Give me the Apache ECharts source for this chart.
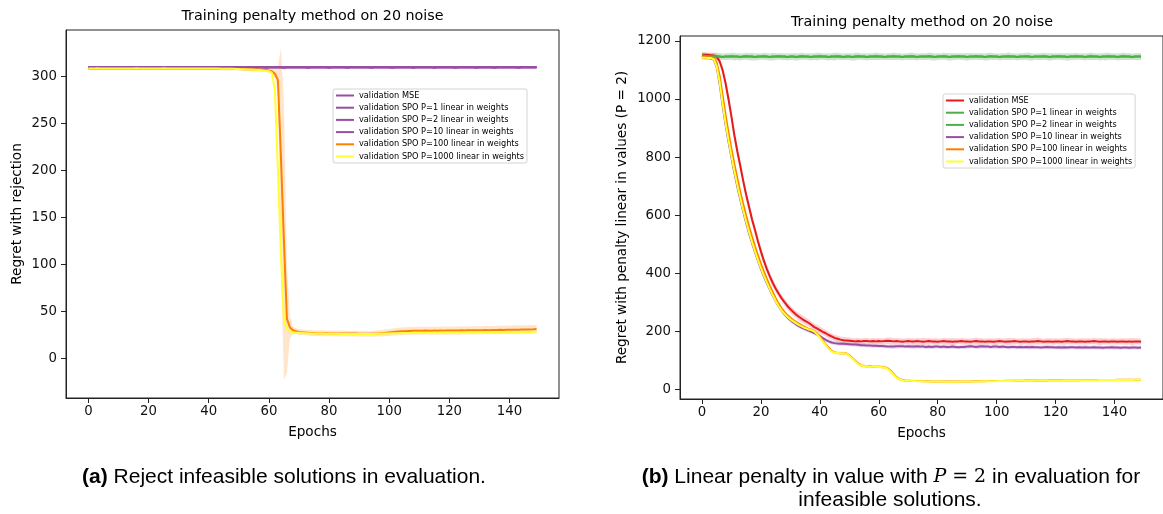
<!DOCTYPE html>
<html><head><meta charset="utf-8">
<script src="https://cdn.jsdelivr.net/npm/echarts@6/dist/echarts.min.js"></script>
<style>html,body{margin:0;padding:0;background:#fff}#c{width:1163px;height:514px}</style>
</head><body><div id="c"></div>
<script>
// ---------------- DATA ----------------
const chartTitle = 'Training penalty method on 20 noise';
const seriesNames = [
  'validation MSE',
  'validation SPO P=1 linear in weights',
  'validation SPO P=2 linear in weights',
  'validation SPO P=10 linear in weights',
  'validation SPO P=100 linear in weights',
  'validation SPO P=1000 linear in weights'
];
const epochTicks = [0, 20, 40, 60, 80, 100, 120, 140];
const leftYTicks = [0, 50, 100, 150, 200, 250, 300];
const rightYTicks = [0, 200, 400, 600, 800, 1000, 1200];

// (a) left: MSE, P=1, P=2, P=10 (all overlapping, purple)
const purpleLeft = [
309.4,309.3,309.5,309.3,309.4,309.2,309.4,309.5,309.3,309.4,
309.3,309.4,309.2,309.4,309.5,309.3,309.4,309.3,309.2,309.4,
309.5,309.3,309.4,309.3,309.4,309.2,309.3,309.5,309.4,309.3,
309.4,309.2,309.3,309.4,309.5,309.3,309.4,309.3,309.2,309.4,
309.3,309.5,309.4,309.3,309.2,309.4,309.3,309.4,309.5,309.3,
309.4,309.3,309.2,309.4,309.3,309.5,309.4,309.3,309.4,309.2,
309.3,309.4,309.5,309.3,309.4,309.2,309.3,309.4,309.3,309.5,
309.4,309.3,309.4,309.2,309.3,309.4,309.5,309.3,309.4,309.3,
309.2,309.4,309.3,309.5,309.4,309.3,309.2,309.4,309.3,309.4,
309.5,309.3,309.4,309.3,309.2,309.4,309.3,309.5,309.4,309.3,
309.4,309.2,309.3,309.4,309.5,309.3,309.4,309.3,309.2,309.4,
309.3,309.5,309.4,309.3,309.4,309.2,309.3,309.4,309.5,309.3,
309.4,309.3,309.2,309.4,309.3,309.5,309.4,309.3,309.4,309.2,
309.3,309.4,309.5,309.3,309.4,309.2,309.3,309.4,309.3,309.5,
309.4,309.3,309.4,309.2,309.3,309.4,309.5,309.3,309.4,309.3];
// (a) left: P=100 (orange)
const orangeLeft = [
307.9,307.8,307.9,307.8,307.9,307.8,307.8,307.9,307.8,307.9,
307.8,307.9,307.8,307.8,307.9,307.8,307.9,307.8,307.8,307.9,
307.8,307.8,307.9,307.8,307.9,307.8,307.8,307.9,307.8,307.8,
307.9,307.8,307.8,307.9,307.8,307.8,307.9,307.8,307.8,307.9,
307.8,307.8,307.9,307.8,307.8,307.7,307.8,307.7,307.7,307.7,
307.6,307.5,307.4,307.3,307.2,307.1,307.0,306.9,306.7,306.5,
306.0,305.0,302.5,296,215,125,42,33,30,29,
28.2,27.8,27.5,27.3,27.1,27.0,26.9,26.8,26.7,26.7,
26.6,26.6,26.5,26.5,26.6,26.5,26.4,26.4,26.5,26.4,
26.3,26.3,26.2,26.2,26.3,26.4,26.6,26.8,27.1,27.4,
27.7,28.0,28.3,28.6,28.8,29.0,29.1,29.3,29.4,29.4,
29.5,29.4,29.6,29.5,29.4,29.6,29.5,29.7,29.5,29.6,
29.7,29.6,29.8,29.7,29.9,29.8,29.9,30.0,29.9,30.0,
30.1,30.0,30.2,30.1,30.2,30.3,30.2,30.4,30.3,30.4,
30.5,30.4,30.6,30.5,30.7,30.8,30.7,30.9,31.0,31.2];
const orangeSpreadLeft = [
1.4,1.5,1.6,1.5,1.4,1.5,1.6,1.5,1.5,1.4,
1.5,1.6,1.5,1.4,1.5,1.5,1.6,1.5,1.4,1.5,
1.6,1.5,1.5,1.4,1.5,1.6,1.5,1.5,1.4,1.5,
1.5,1.6,1.5,1.4,1.5,1.5,1.6,1.5,1.5,1.4,
1.5,1.5,1.6,1.5,1.5,1.6,1.6,1.7,1.7,1.8,
1.8,1.9,1.9,2.0,2.0,2.1,2.1,2.2,2.2,2.2,
2.2,3.0,5.0,14,115,148,57,12,4,3,
3.0,3.1,2.9,3.0,3.2,3.0,2.9,3.1,3.0,3.1,
3.0,2.9,3.1,3.0,3.2,3.1,3.0,2.9,3.1,3.0,
3.1,3.0,3.2,3.1,3.0,3.2,3.3,3.4,3.5,3.6,
3.7,3.8,3.9,4.0,4.0,4.1,4.0,4.2,4.1,4.2,
4.1,4.3,4.2,4.1,4.3,4.2,4.3,4.2,4.4,4.3,
4.2,4.4,4.3,4.4,4.3,4.2,4.4,4.3,4.4,4.3,
4.4,4.3,4.5,4.4,4.3,4.5,4.4,4.5,4.4,4.5,
4.4,4.5,4.6,4.5,4.4,4.6,4.5,4.6,4.5,4.6];
// (a) left: P=1000 (yellow)
const yellowLeft = [
308.2,308.1,308.2,308.3,308.2,308.1,308.2,308.2,308.1,308.2,
308.2,308.1,308.2,308.2,308.1,308.2,308.3,308.2,308.1,308.2,
308.1,308.2,308.2,308.1,308.2,308.3,308.2,308.1,308.2,308.2,
308.2,308.1,308.2,308.2,308.1,308.2,308.2,308.1,308.2,308.1,
308.1,308.0,308.1,308.0,307.9,307.9,307.8,307.8,307.7,307.6,
307.5,307.4,307.3,307.1,307.0,306.8,306.6,306.4,306.1,305.8,
305.2,303.5,285,200,110,40,31,29,28,27.5,
27.2,27.0,26.8,26.7,26.6,26.5,26.5,26.4,26.4,26.3,
26.3,26.2,26.3,26.2,26.1,26.2,26.1,26.0,26.1,26.0,
26.0,26.1,26.0,25.9,26.0,26.1,26.2,26.3,26.4,26.5,
26.6,26.7,26.8,26.9,27.0,27.0,27.1,27.1,27.2,27.2,
27.3,27.3,27.4,27.3,27.4,27.5,27.4,27.5,27.5,27.6,
27.6,27.5,27.6,27.7,27.6,27.7,27.7,27.8,27.7,27.8,
27.8,27.9,27.8,27.9,27.9,28.0,27.9,28.0,28.0,28.1,
28.0,28.1,28.1,28.2,28.1,28.2,28.2,28.3,28.3,28.3];

// (b) right: MSE (red)
const redRight = [
1152,1152,1152,1151,1150,1145,1130,1100,1055,1000,
940,875,820,770,718,670,628,585,549,510,
475,443,415,390,367,347,330,314,300,287,
276,266,257,249,242,236,230,223,215,210,
204,198,193,187,182,177,174,171,169,168,
167,166,165,166,165,166,166,165,166,165,
166,165,166,167,166,165,166,165,164,165,
166,165,165,166,165,164,165,166,165,165,
164,165,166,165,165,164,165,165,166,165,
165,164,165,166,165,165,164,165,165,164,
165,166,165,164,165,165,166,165,164,165,
165,164,165,165,166,165,164,165,165,164,
165,165,164,165,166,165,165,164,165,165,
164,165,165,166,165,164,165,165,164,165,
165,164,165,165,164,165,164,165,165,164];
const redSpreadRight = [
8,8,8,8,9,10,12,14,16,17,
18,18,18,17,17,16,16,15,15,14,
14,14,13,13,13,12,12,12,12,12,
12,12,12,13,13,13,12,12,12,12,
12,12,11,11,11,11,11,11,11,11,
11,10,11,11,10,11,11,10,11,11,
11,10,11,11,12,11,10,11,11,10,
11,11,10,11,11,12,11,11,10,11,
11,10,11,11,11,12,11,10,11,11,
10,11,11,12,11,11,10,11,11,11,
11,11,10,11,12,11,11,10,11,11,
10,11,11,11,12,11,10,11,11,11,
11,10,11,12,11,11,11,10,11,11,
11,11,10,11,11,12,11,11,10,11,
11,10,11,11,11,11,12,11,10,11];
// (b) right: P=1 and P=2 (green, overlapping)
const greenRight = [
1150,1148,1147,1146,1146,1147,1146,1145,1146,1146,
1147,1146,1146,1145,1146,1147,1146,1146,1145,1146,
1146,1147,1146,1145,1146,1146,1147,1146,1146,1145,
1146,1146,1145,1146,1147,1146,1146,1145,1146,1146,
1147,1146,1146,1145,1146,1146,1147,1146,1145,1146,
1146,1145,1146,1147,1146,1146,1145,1146,1146,1147,
1146,1146,1145,1146,1146,1147,1146,1146,1145,1146,
1146,1147,1146,1145,1146,1146,1146,1147,1146,1145,
1146,1146,1147,1146,1145,1146,1146,1147,1146,1146,
1145,1146,1146,1147,1146,1146,1145,1146,1147,1146,
1146,1145,1146,1146,1147,1146,1146,1145,1146,1146,
1147,1146,1145,1146,1146,1146,1147,1146,1145,1146,
1146,1147,1146,1146,1145,1146,1146,1147,1146,1146,
1145,1146,1147,1146,1146,1145,1146,1146,1147,1146,
1146,1145,1146,1147,1146,1146,1145,1146,1146,1146];
const greenSpreadRight = [
12,12,11,12,13,12,12,11,12,12,
12,13,12,12,11,12,12,13,12,12,
11,12,12,12,13,12,11,12,12,12,
12,12,13,12,12,11,12,12,12,13,
12,11,12,12,12,13,12,12,11,12,
12,12,13,12,11,12,12,12,12,13,
12,12,11,12,12,13,12,12,12,11,
12,13,12,12,11,12,12,12,13,12,
12,11,12,12,13,12,12,11,12,12,
13,12,12,11,12,12,12,13,12,12,
11,12,12,12,13,12,11,12,12,12,
12,13,12,11,12,12,12,12,13,12,
12,11,12,12,13,12,12,12,11,12,
12,12,13,12,11,12,12,13,12,12,
11,12,12,13,12,12,11,12,12,12];
// (b) right: P=10 (purple)
const purpleRight = [
1142,1142,1141,1140,1136,1110,1052,978,912,853,
798,746,698,654,612,573,537,503,472,443,
415,389,366,344,323,304,286,271,258,247,
238,230,223,217,212,207,203,199,194,189,
183,176,170,165,161,159,158,157,156.5,156,
155,154,154,153,152,152,151,151,150,150,
149,149,148,147,147,147,148,148,148,147,
148,147,147,148,147,147,146,147,146,147,
147,146,147,146,146,147,146,145,146,146,
147,148,147,146,147,148,147,147,146,147,
147,146,147,146,145,146,146,145,146,145,
146,145,146,145,145,144,145,146,145,145,
144,145,144,145,144,145,145,144,145,144,
145,144,144,145,144,144,143,144,144,145,
144,144,143,144,144,143,144,144,143,144];
const purpleSpreadRight = [
3,3,3,3,4,5,6,7,7,7,
7,7,7,7,6,6,6,6,6,6,
6,6,6,6,6,6,6,6,6,6,
6,6,6,6,7,7,7,7,7,7,
7,7,7,7,7,7,7,7,7,7,
7,6,7,8,7,7,6,7,8,7,
7,8,7,6,7,7,8,7,7,6,
7,7,8,7,7,6,7,8,7,7,
6,7,7,8,7,7,7,6,7,8,
7,7,6,7,8,7,7,7,6,7,
8,7,7,6,7,7,8,7,7,6,
7,8,7,7,6,7,7,8,7,7,
6,7,8,7,7,7,6,7,7,8,
7,7,6,7,8,7,7,6,7,7,
8,7,7,6,7,7,8,7,7,7];
// (b) right: P=100 (orange)
const orangeRight = [
1145,1145,1144,1144,1141,1125,1080,1012,945,884,
828,775,726,680,637,597,560,525,492,461,
432,405,380,357,335,314,295,279,266,255,
246,238,231,225,219,214,209,205,201,193,
181,168,155,143,132,127,125,124,124,123,
117,108,98,89,82,80,79,79,78,78,
78,77,76,72,64,53,42,35,32,30.5,
29.8,29.3,28.9,28.5,28.2,27.9,27.6,27.4,27.2,27.0,
26.9,26.8,26.7,26.7,26.6,26.6,26.7,26.7,26.8,26.9,
27.0,27.1,27.3,27.4,27.6,27.8,27.9,28.1,28.2,28.4,
28.5,28.7,28.8,29.0,29.1,29.3,29.4,29.5,29.7,29.8,
29.9,30.0,30.1,30.2,30.3,30.4,30.5,30.6,30.7,30.8,
30.9,31.0,31.0,31.1,31.2,31.3,31.4,31.4,31.5,31.6,
31.7,31.7,31.8,31.9,31.9,32.0,32.1,32.1,32.2,32.3,
32.3,32.4,32.5,32.5,32.6,32.7,32.7,32.8,32.9,32.9];
const orangeSpreadRight = [
9,9,9,9,10,12,14,15,15,15,
14,14,13,13,12,12,11,11,10,10,
9,9,8,8,8,7,7,7,6,6,
6,6,6,6,6,6,5,5,5,5,
5,5,5,5,5,5,5,5,5,5,
5,5,5,5,5,5,5,5,5,5,
5,5,5,5,5,5,4,4,3,3,
3,3,3,2,3,3,2,3,3,2,
3,2,3,3,2,3,3,2,3,3,
2,3,3,2,3,3,3,2,3,3,
3,2,3,3,2,3,3,3,2,3,
3,3,2,3,3,2,3,3,3,2,
3,3,3,2,3,3,2,3,3,3,
2,3,3,3,2,3,3,2,3,3,
3,2,3,3,3,2,3,3,2,3];
// (b) right: P=1000 (yellow)
const yellowRight = [
1142,1142,1141,1141,1137,1112,1058,985,918,859,
804,752,704,659,617,578,542,507,476,446,
418,392,368,346,325,305,287,272,260,250,
241,234,227,221,216,211,207,204,200,190,
178,165,152,140,130,126,125,124,124,122,
115,106,96,87,81,79,79,78,78,78,
77,76,75,70,62,50,40,34,31,30,
29.5,29.0,28.5,28.0,27.8,27.5,27.2,27.0,26.8,26.6,
26.5,26.4,26.3,26.3,26.2,26.2,26.3,26.3,26.4,26.5,
26.6,26.7,26.9,27.0,27.2,27.4,27.5,27.7,27.8,28.0,
28.1,28.3,28.4,28.6,28.7,28.9,29.0,29.1,29.3,29.4,
29.5,29.6,29.7,29.8,29.9,30.0,30.1,30.2,30.3,30.4,
30.5,30.6,30.6,30.7,30.8,30.9,31.0,31.0,31.1,31.2,
31.3,31.3,31.4,31.5,31.5,31.6,31.7,31.7,31.8,31.9,
31.9,32.0,32.1,32.1,32.2,32.3,32.3,32.4,32.5,32.5];

// ---------------- STYLE ----------------
const C = {red:'#e41a1c', green:'#4daf4a', purple:'#984ea3', orange:'#ff7f00', yellow:'#ffff33'};
const leftColors  = [C.purple, C.purple, C.purple, C.purple, C.orange, C.yellow];
const rightColors = [C.red, C.green, C.green, C.purple, C.orange, C.yellow];
const FONT = 'DejaVu Sans';

function pts(arr) { return arr.map((v, i) => [i, v]); }
function line(name, arr, g, color) {
  return {type:'line', name, xAxisIndex:g, yAxisIndex:g, data:pts(arr), symbol:'none', showSymbol:false,
          lineStyle:{color, width:2}, itemStyle:{color}, silent:true, animation:false};
}
// shaded spread band: polygon through (epoch, value +/- spread) mapped by the axes
function band(key, arr, spread, g, fill) {
  return {type:'custom', name:key, coordinateSystem:'cartesian2d', xAxisIndex:g, yAxisIndex:g,
    clip:true, silent:true, animation:false,
    data: arr.map((v, i) => [i, v - spread[i], v + spread[i]]),
    encode:{x:0, y:[1, 2]},
    renderItem(params, api) {
      if (params.dataIndex !== 0) return null;
      const up = [], dn = [];
      for (let i = 0; i < arr.length; i++) {
        up.push(api.coord([i, arr[i] + spread[i]]));
        dn.push(api.coord([i, arr[i] - spread[i]]));
      }
      return {type:'polygon', shape:{points: up.concat(dn.reverse())}, style:{fill, stroke:null}};
    }};
}

const series = [
  // left (a)
  line(seriesNames[0], purpleLeft, 0, C.purple),
  line(seriesNames[1], purpleLeft, 0, C.purple),
  line(seriesNames[2], purpleLeft, 0, C.purple),
  line(seriesNames[3], purpleLeft, 0, C.purple),
  band('bL4', orangeLeft, orangeSpreadLeft, 0, 'rgba(255,127,0,0.2)'),
  line(seriesNames[4], orangeLeft, 0, C.orange),
  line(seriesNames[5], yellowLeft, 0, C.yellow),
  // right (b)
  band('bR0', redRight, redSpreadRight, 1, 'rgba(228,26,28,0.2)'),
  line(seriesNames[0], redRight, 1, C.red),
  band('bR1', greenRight, greenSpreadRight, 1, 'rgba(77,175,74,0.3)'),
  line(seriesNames[1], greenRight, 1, C.green),
  line(seriesNames[2], greenRight, 1, C.green),
  band('bR3', purpleRight, purpleSpreadRight, 1, 'rgba(152,78,163,0.2)'),
  line(seriesNames[3], purpleRight, 1, C.purple),
  band('bR4', orangeRight, orangeSpreadRight, 1, 'rgba(255,127,0,0.2)'),
  line(seriesNames[4], orangeRight, 1, C.orange),
  line(seriesNames[5], yellowRight, 1, C.yellow)
];

function xAxis(g) {
  return {type:'value', gridIndex:g, min:-7.45, max:156.45,
    name:'Epochs', nameLocation:'middle', nameGap:27, nameMoveOverlap:false,
    nameTextStyle:{fontFamily:FONT, fontSize:13.6, color:'#000'},
    axisLine:{show:true, onZero:false, lineStyle:{color:'#222', width:1}},
    axisTick:{show:true, length:5, customValues:epochTicks, lineStyle:{color:'#222', width:1}},
    axisLabel:{customValues:epochTicks, margin:7, fontFamily:FONT, fontSize:13.3, color:'#111',
               formatter:(v) => String(v)},
    splitLine:{show:false}};
}
function yAxis(g, min, max, ticks, name, gap) {
  return {type:'value', gridIndex:g, min, max,
    name, nameLocation:'middle', nameGap:gap, nameRotate:90, nameMoveOverlap:false,
    nameTextStyle:{fontFamily:FONT, fontSize:13.6, color:'#000'},
    axisLine:{show:true, onZero:false, lineStyle:{color:'#222', width:1}},
    axisTick:{show:true, length:5, customValues:ticks, lineStyle:{color:'#222', width:1}},
    axisLabel:{customValues:ticks, margin:9, fontFamily:FONT, fontSize:13.3, color:'#111',
               formatter:(v) => String(v)},
    splitLine:{show:false}};
}
function legend(left, top, colors, fs) {
  return {orient:'vertical', left, top, selectedMode:false,
    data:seriesNames.map((n, i) => ({name:n, icon:'rect', itemStyle:{color:colors[i], borderWidth:0}})),
    itemWidth:18, itemHeight:2, itemGap:2.2,
    padding:[1.5, 3, 1.5, 3],
    backgroundColor:'rgba(255,255,255,0.85)', borderColor:'#d4d4d4', borderWidth:1, borderRadius:2,
    textStyle:{fontFamily:FONT, fontSize:fs, color:'#000', lineHeight:10}};
}

const chart = echarts.init(document.getElementById('c'), null, {renderer:'canvas'});
chart.setOption({
  animation:false,
  backgroundColor:'#fff',
  textStyle:{fontFamily:FONT},
  grid:[
    {left:66, top:30, width:493, height:368, show:true, borderColor:'#222', borderWidth:1, backgroundColor:'transparent', containLabel:false},
    {left:680, top:36, width:486, height:363, show:true, borderColor:'#222', borderWidth:1, backgroundColor:'transparent', containLabel:false}
  ],
  xAxis:[xAxis(0), xAxis(1)],
  yAxis:[
    yAxis(0, -42, 349, leftYTicks, 'Regret with rejection', 42),
    yAxis(1, -33.5, 1217, rightYTicks, 'Regret with penalty linear in values (P = 2)', 51)
  ],
  legend:[legend(333, 89, leftColors, 8.2), legend(943, 94, rightColors, 8.1)],
  graphic:[
    {type:'text', x:312.5, y:16, silent:true,
     style:{text:chartTitle, textAlign:'center', textVerticalAlign:'middle', font:'14.3px "DejaVu Sans"', fill:'#000'}},
    {type:'text', x:922, y:22, silent:true,
     style:{text:chartTitle, textAlign:'center', textVerticalAlign:'middle', font:'14.3px "DejaVu Sans"', fill:'#000'}},
    {type:'text', x:284, y:477, silent:true,
     style:{text:'{b|(a)} Reject infeasible solutions in evaluation.', textAlign:'center', textVerticalAlign:'middle',
       font:'21px "Liberation Sans"', fill:'#000',
       rich:{b:{fontFamily:'Liberation Sans', fontSize:21, fontWeight:'bold', fill:'#000'}}}},
    {type:'text', x:891, y:477, silent:true,
     style:{text:'{b|(b)} Linear penalty in value with {m|P} {s|= 2} in evaluation for', textAlign:'center', textVerticalAlign:'middle',
       font:'21px "Liberation Sans"', fill:'#000',
       rich:{b:{fontFamily:'Liberation Sans', fontSize:21, fontWeight:'bold', fill:'#000'},
             m:{fontFamily:'DejaVu Serif', fontSize:19, fontStyle:'italic', fill:'#000'},
             s:{fontFamily:'DejaVu Serif', fontSize:19, fill:'#000'}}}},
    {type:'text', x:890, y:500, silent:true,
     style:{text:'infeasible solutions.', textAlign:'center', textVerticalAlign:'middle',
       font:'21px "Liberation Sans"', fill:'#000'}}
  ],
  series
});
</script></body></html>
